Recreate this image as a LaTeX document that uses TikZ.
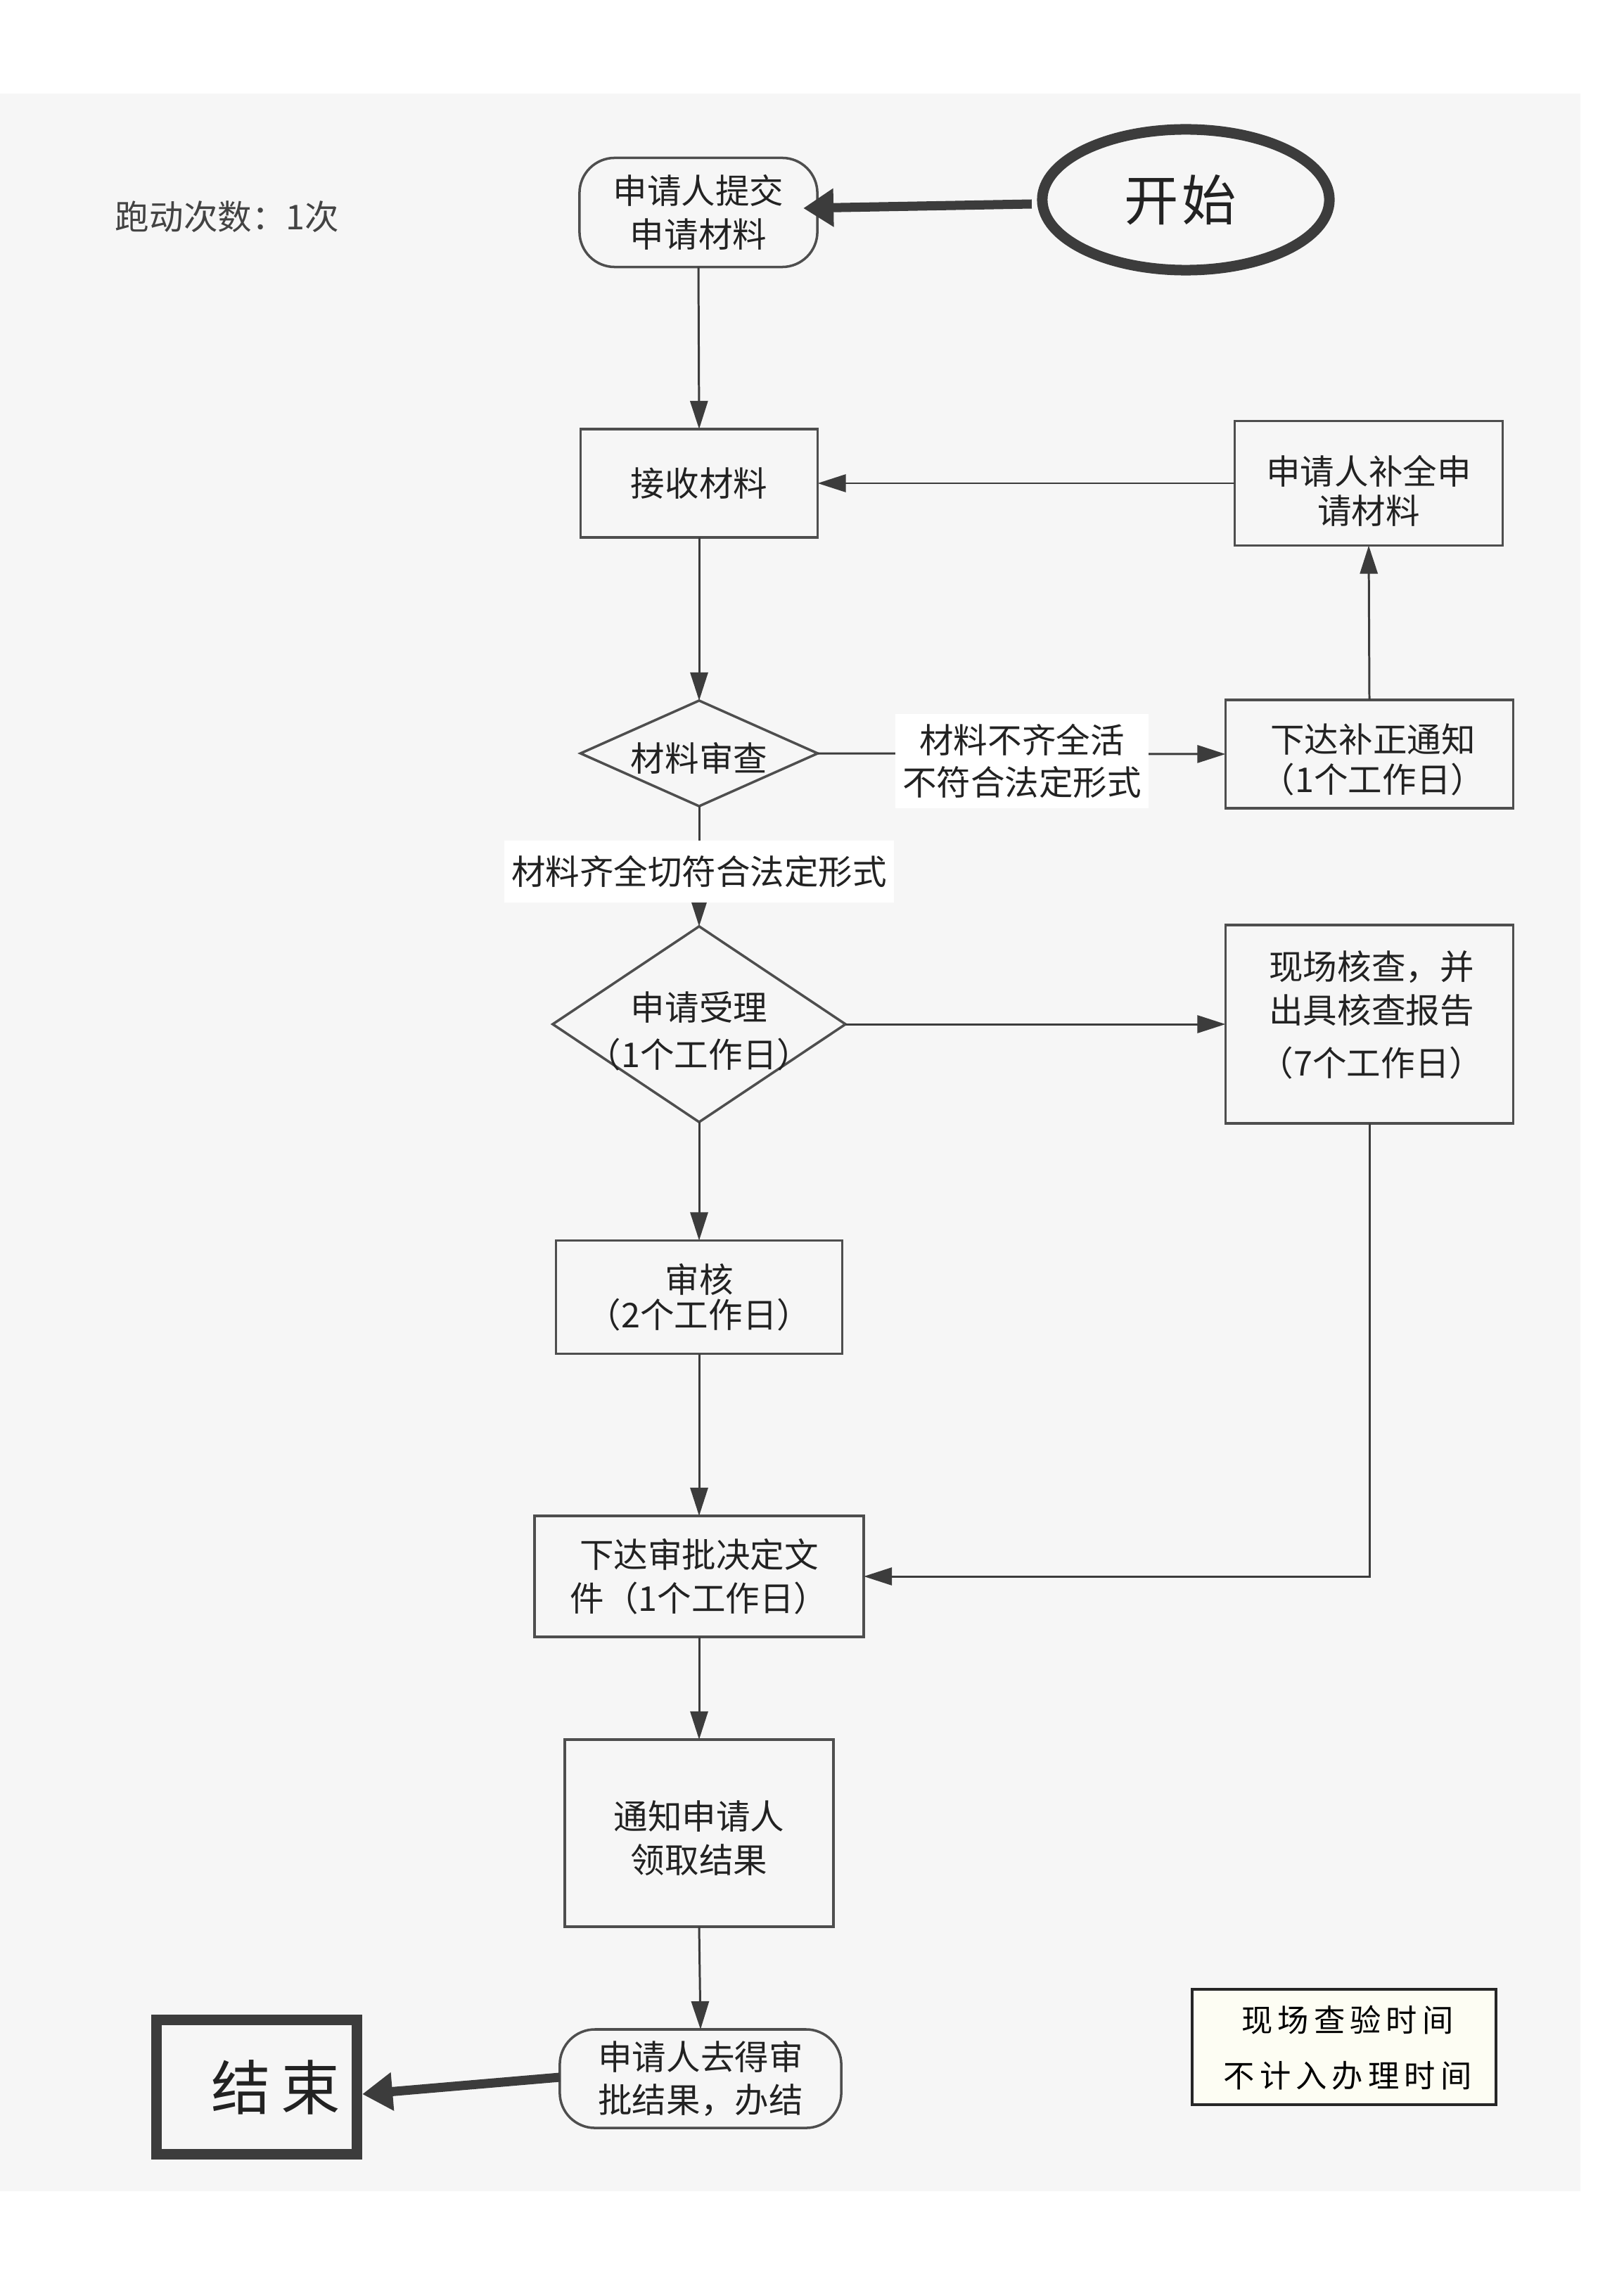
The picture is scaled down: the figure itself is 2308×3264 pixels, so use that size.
\documentclass[tikz,border=0pt]{standalone}
\usepackage{fontspec}
\setmainfont{Noto Sans CJK SC}
\newfontfamily\startfont[LetterSpace=6]{Noto Sans CJK SC}
\newfontfamily\endfont[LetterSpace=18]{Noto Sans CJK SC}
\newfontfamily\notefont[LetterSpace=16]{Noto Sans CJK SC}
\usetikzlibrary{arrows.meta,shapes.geometric}
\definecolor{bggray}{HTML}{F6F6F6}
\definecolor{linecol}{HTML}{3C3C3C}
\definecolor{boxcol}{HTML}{4E4E4E}
\definecolor{txtcol}{HTML}{222222}
\definecolor{notefill}{HTML}{FDFDF3}
\begin{document}
\begin{tikzpicture}[x=0.01cm,y=-0.01cm,
  every node/.style={font=\fontsize{13.8pt}{17.5pt}\selectfont, text=txtcol, inner sep=0pt, outer sep=0pt},
  box/.style={draw=boxcol, line width=1pt, align=center},
  roundbox/.style={box, rounded corners=0.5cm},
  dia/.style={draw=boxcol, line width=1pt, shape=diamond},
  lbl/.style={align=center},
  wlbl/.style={align=center, fill=white, inner xsep=3pt, inner ysep=4pt},
  arr/.style={draw=linecol, line width=0.85pt, -{Triangle[length=0.4cm,width=0.25cm]}},
  thickarr/.style={draw=linecol, line width=3.7pt, -{Triangle[length=0.43cm,width=0.52cm]}}
]
% page and background
\useasboundingbox (0,0) rectangle (2308,3264);
\fill[white] (0,0) rectangle (2308,3264);
\fill[bggray] (0,133) rectangle (2247,3115);

% title
\node[text=txtcol!85] (runs) at (323,308) {跑动次数：1次};

% start / end
\node[shape=ellipse, draw=linecol, line width=4.27pt, minimum width=4.08cm, minimum height=2.0cm] (kaishi) at (1686,284) {};
\node[font=\fontsize{22pt}{26pt}\startfont] (kaishitext) at (1678,284) {开始};

\node[roundbox, minimum width=3.38cm, minimum height=1.55cm] (start) at (993,302) {申请人提交\\申请材料};

\node[box, minimum width=3.37cm, minimum height=1.54cm] (jieshou) at (994,687) {接收材料};
\node[box, minimum width=3.81cm, minimum height=1.77cm] (buquan) at (1946,687) {};
\node[lbl] (buquantext) at (1946,698) {申请人补全申\\[-1.5pt]请材料};

\node[dia, minimum width=3.37cm, minimum height=1.5cm] (shencha) at (994,1071) {};
\node[lbl] (shenchatext) at (994,1078) {材料审查};

\node[box, minimum width=4.09cm, minimum height=1.54cm] (buzheng) at (1947,1072) {};
\node[lbl] (buzhengtext) at (1952,1080) {下达补正通知\\[-1.5pt]（1个工作日）};

\node[dia, minimum width=4.16cm, minimum height=2.78cm] (shouli) at (994,1456) {};
\node[lbl] (shoulitext) at (994,1466) {申请受理\\[1.5pt]（1个工作日）};

\node[box, minimum width=4.09cm, minimum height=2.82cm] (xianchang) at (1947,1456) {};
\node[lbl] (xianchangtext) at (1950,1443) {现场核查，并\\出具核查报告\\[4pt]（7个工作日）};

\node[box, minimum width=4.07cm, minimum height=1.61cm] (shenhe) at (994,1844) {审核\\[-3.3pt]（2个工作日）};

\node[box, minimum width=4.68cm, minimum height=1.72cm] (xiada) at (994,2241) {下达审批决定文\\件（1个工作日）};

\node[box, minimum width=3.82cm, minimum height=2.66cm] (tongzhi) at (994,2606) {};
\node[lbl] (tongzhitext) at (994,2613) {通知申请人\\领取结果};

\node[roundbox, minimum width=4.0cm, minimum height=1.4cm] (banjie) at (996,2955) {申请人去得审\\批结果，办结};

\node[draw=linecol, line width=4.27pt, minimum width=2.84cm, minimum height=1.91cm] (jieshu) at (365,2967) {};
\node[font=\fontsize{24pt}{28pt}\endfont] (jieshutext) at (392,2967) {结束};

\node[draw=black!85, line width=1.1pt, fill=notefill, minimum width=4.31cm, minimum height=1.64cm] (note) at (1911,2910) {};
\node[lbl, text=black, font=\fontsize{12.6pt}{22.7pt}\notefont] (notetext) at (1916,2911) {现场查验时间\\不计入办理时间};

% connectors
\draw[thickarr] ([xshift=-0.15cm,yshift=-0.06cm]kaishi.west) -- ([xshift=-0.2cm,yshift=0.06cm]start.east);
\draw[arr] (start.south) -- (jieshou.north);
\draw[arr] (buquan.west) -- (jieshou.east);
\draw[arr] (jieshou.south) -- (shencha.north);
\draw[arr] (shencha.east) -- (buzheng.west);
\node[wlbl] (nolabel) at (1453,1082) {材料不齐全活\\[-0.5pt]不符合法定形式};
\draw[arr] (buzheng.north) -- (buquan.south);
\draw[arr] (shencha.south) -- (shouli.north);
\node[wlbl, inner ysep=6pt] (yeslabel) at (994,1239) {材料齐全切符合法定形式};
\draw[arr] (shouli.east) -- (xianchang.west);
\draw[arr] (shouli.south) -- (shenhe.north);
\draw[arr] (shenhe.south) -- (xiada.north);
\draw[arr] (xianchang.south) |- (xiada.east);
\draw[arr] (xiada.south) -- (tongzhi.north);
\draw[arr] (tongzhi.south) -- (banjie.north);
\draw[thickarr] ([yshift=0.02cm]banjie.west) -- ([xshift=0.08cm,yshift=-0.1cm]jieshu.east);
\end{tikzpicture}
\end{document}
